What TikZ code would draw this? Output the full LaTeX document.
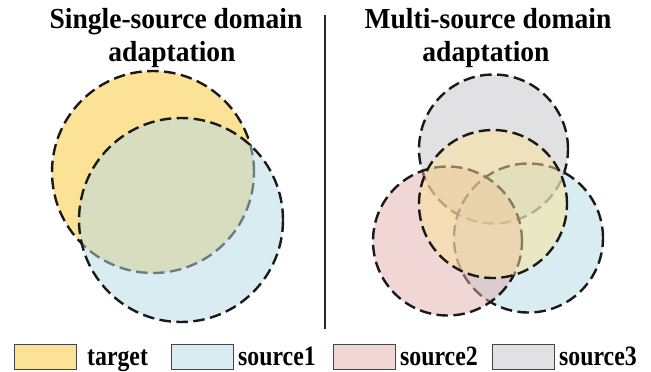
\documentclass[tikz,border=0pt]{standalone}
\usepackage{fontspec}
\setmainfont{Liberation Serif}
\newfontfamily\legfont{Liberation Serif}[FakeStretch=0.85]
\newfontfamily\ttlfont{Liberation Serif}[FakeStretch=0.95]
\definecolor{tyellow}{RGB}{252,226,150}
\definecolor{sblue}{RGB}{216,236,241}
\definecolor{sbluebase}{RGB}{182,218,228}
\definecolor{spink}{RGB}{240,214,213}
\definecolor{spinkbase}{RGB}{225,173,171}
\definecolor{sgray}{RGB}{225,225,227}
\definecolor{edgegray}{RGB}{70,70,70}
\begin{document}
\begin{tikzpicture}[x=1pt,y=-1pt,
  venn/.style={circle, inner sep=0pt, draw=black!90, line width=2.4pt, dash pattern=on 11.5pt off 5.5pt},
  ttl/.style={font=\ttlfont\fontsize{29}{32}\selectfont\bfseries, inner sep=0pt, anchor=base},
  legbox/.style={draw=edgegray, line width=0.8pt, minimum width=62pt, minimum height=25pt, inner sep=0pt, anchor=north west},
  legtxt/.style={font=\legfont\fontsize{28}{30}\selectfont\bfseries, inner sep=0pt, anchor=base west}]
\useasboundingbox (0,0) rectangle (651,372);

% titles
\node[ttl] (tl1) at (176,28) {Single-source domain};
\node[ttl] (tl2) at (172,61) {adaptation};
\node[ttl] (tr1) at (488,28) {Multi-source domain};
\node[ttl] (tr2) at (486,61) {adaptation};

% divider
\coordinate (dtop) at (325,15);
\coordinate (dbot) at (325,329);
\draw[line width=1.3pt, black!85] (dtop) -- (dbot);

% single-source
\node[venn, fill=tyellow, minimum size=202pt] (Ltarget) at (153,172) {};
\node[venn, fill=sbluebase, fill opacity=0.52, minimum size=204pt] (Lsource) at (181,220) {};

% multi-source
\node[venn, fill=sgray, minimum size=149pt] (Rs3) at (493.5,149) {};
\node[venn, fill=sbluebase, fill opacity=0.52, minimum size=149pt] (Rs1) at (528.5,238) {};
\node[venn, fill=spinkbase, fill opacity=0.5, minimum size=149pt] (Rs2) at (447.5,241) {};
\node[venn, fill=tyellow, fill opacity=0.5, minimum size=148pt] (Rt) at (493,204) {};

% legend
\node[legbox, fill=tyellow] (b1) at (14,344) {};
\node[legtxt] (l1) at (87,365) {target};
\node[legbox, fill=sblue] (b2) at (171,344) {};
\node[legtxt] (l2) at (238,365) {source1};
\node[legbox, fill=spink] (b3) at (333,344) {};
\node[legtxt] (l3) at (400,365) {source2};
\node[legbox, fill=sgray] (b4) at (492,344) {};
\node[legtxt] (l4) at (559,365) {source3};
\end{tikzpicture}
\end{document}
